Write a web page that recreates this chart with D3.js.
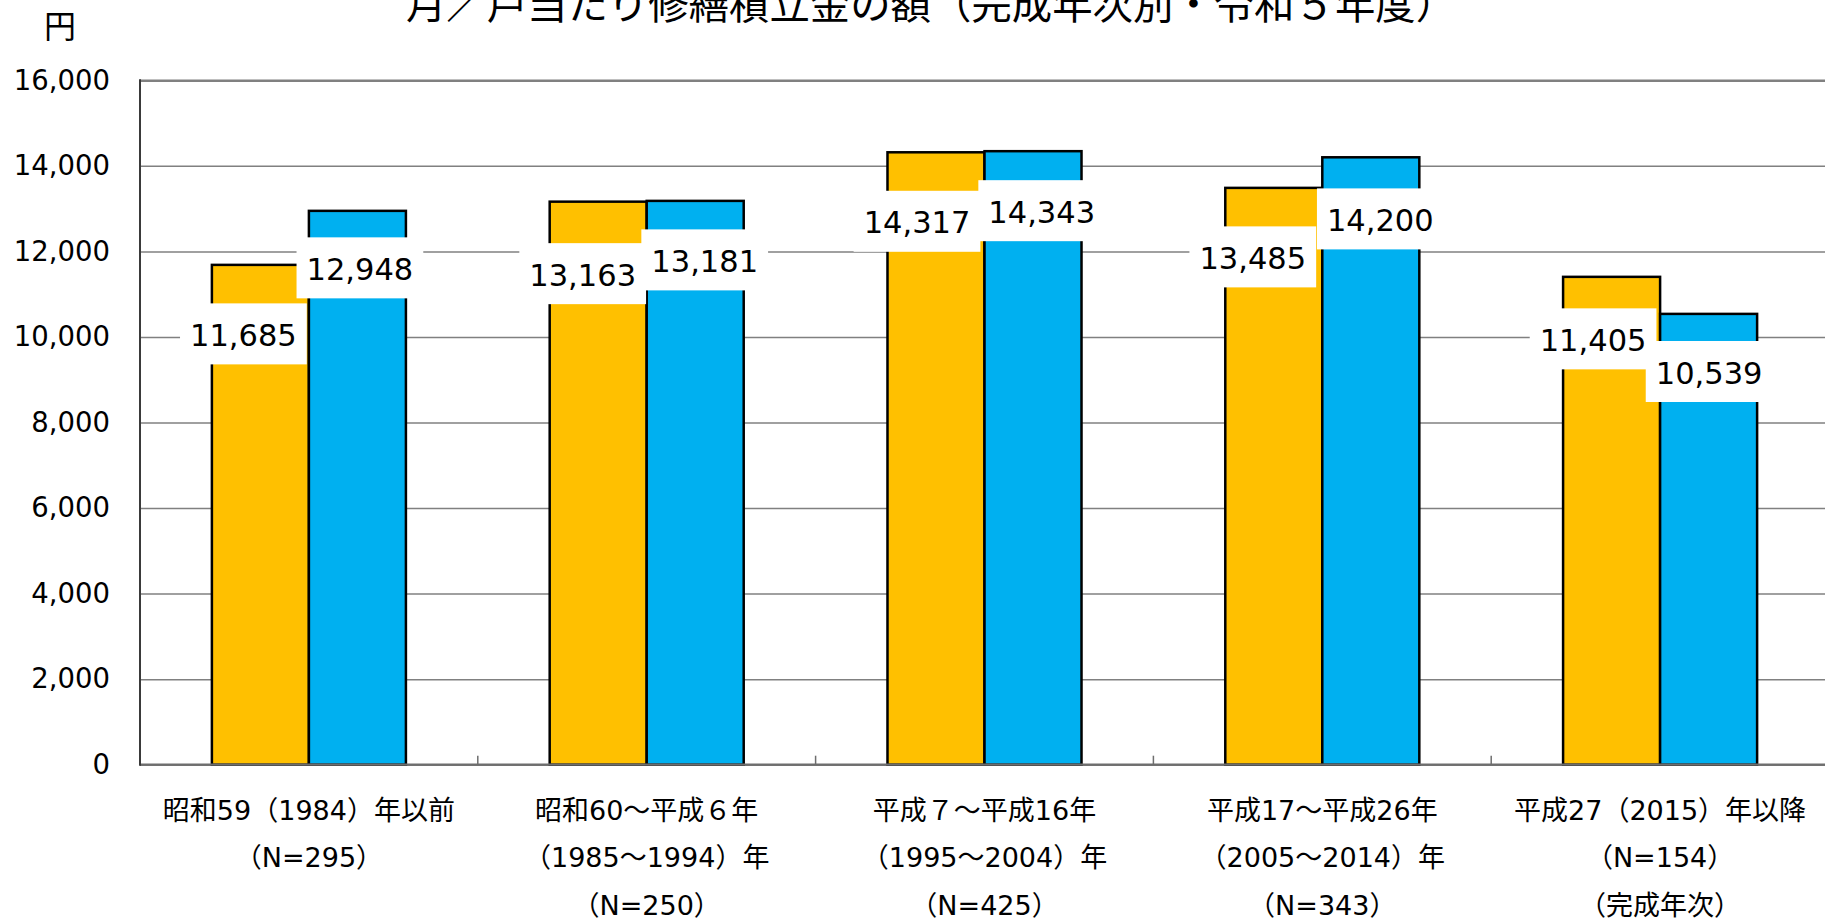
<!DOCTYPE html>
<html>
<head>
<meta charset="utf-8">
<script src="https://cdn.jsdelivr.net/npm/d3@7"></script>
<style>
  html, body { margin: 0; padding: 0; background: #ffffff; }
  svg { display: block; }
</style>
</head>
<body>
<svg id="chart" width="1825" height="922"></svg>
<script>
// ---- data ----
const titleText = "月／戸当たり修繕積立金の額（完成年次別・令和５年度）";
const unitText = "円";

// category labels, one entry per line
const categoryLines = [
  ["昭和59（1984）年以前", "（N=295）"],
  ["昭和60～平成６年", "（1985～1994）年", "（N=250）"],
  ["平成７～平成16年", "（1995～2004）年", "（N=425）"],
  ["平成17～平成26年", "（2005～2014）年", "（N=343）"],
  ["平成27（2015）年以降", "（N=154）", "（完成年次）"]
];

const seriesKeys = ["first", "second"];
const valuesFirst  = [11685, 13163, 14317, 13485, 11405];
const valuesSecond = [12948, 13181, 14343, 14200, 10539];

const yTicks = [0, 2000, 4000, 6000, 8000, 10000, 12000, 14000, 16000];

// ---- layout ----
const W = 1825, H = 922;
const plotLeft = 140, plotRight = 1829, plotTop = 80.3, plotBottom = 764.7;
const seriesColors = { first: "#FFC000", second: "#00B0F0" };

// hand-placed value labels: offset of label centre from bar centre / bar top
const labelNudgeFirst  = [[-17, 70], [-15.5, 73], [-19, 70], [-21, 70], [-18.5, 63]];
const labelNudgeSecond = [[2.5, 58], [9.5, 60], [8.7, 60.5], [9.5, 62.6], [0.5, 58.6]];

const svg = d3.select("#chart");

const x0 = d3.scaleBand()
  .domain(d3.range(categoryLines.length))
  .range([plotLeft, plotRight])
  .paddingInner(0).paddingOuter(0);

const x1 = d3.scaleBand()
  .domain(seriesKeys)
  .range([0, x0.bandwidth()])
  .paddingInner(0).paddingOuter(0.741);

const y = d3.scaleLinear().domain([0, 16000]).range([plotBottom, plotTop]);

// ---- gridlines + y tick labels ----
const yAxis = d3.axisLeft(y)
  .tickValues(yTicks)
  .tickSize(-(W - plotLeft))
  .tickPadding(30)
  .tickFormat(d3.format(","));

const gy = svg.append("g")
  .attr("transform", `translate(${plotLeft},0)`)
  .call(yAxis);
gy.select(".domain").remove();
gy.selectAll(".tick line")
  .attr("stroke", "#808080")
  .attr("stroke-width", d => d === 16000 ? 2.5 : 1.5);
gy.selectAll(".tick text")
  .attr("fill", "#000")
  .style("font-family", "'DejaVu Sans', Verdana, sans-serif")
  .style("font-size", "27.5px");

// ---- bars ----
const rows = categoryLines.map((_, i) => ({
  i,
  vals: [
    { key: "first", v: valuesFirst[i], nudge: labelNudgeFirst[i] },
    { key: "second", v: valuesSecond[i], nudge: labelNudgeSecond[i] }
  ]
}));

const groups = svg.append("g").selectAll("g")
  .data(rows)
  .join("g")
  .attr("transform", d => `translate(${x0(d.i)},0)`);

groups.selectAll("rect")
  .data(d => d.vals)
  .join("rect")
  .attr("x", d => x1(d.key))
  .attr("y", d => y(d.v))
  .attr("width", x1.bandwidth())
  .attr("height", d => y(0) - y(d.v))
  .attr("fill", d => seriesColors[d.key])
  .attr("stroke", "#000")
  .attr("stroke-width", 2.5);

// ---- axis lines ----
svg.append("line")
  .attr("x1", plotLeft).attr("x2", W)
  .attr("y1", y(0)).attr("y2", y(0))
  .attr("stroke", "#6e6e6e").attr("stroke-width", 2.2);

svg.append("line")
  .attr("x1", plotLeft).attr("x2", plotLeft)
  .attr("y1", y(16000) - 1).attr("y2", y(0) + 1)
  .attr("stroke", "#3a3a3a").attr("stroke-width", 2);

// category boundary ticks (pointing up into the plot)
svg.append("g").selectAll("line")
  .data(d3.range(1, categoryLines.length))
  .join("line")
  .attr("x1", d => x0(d)).attr("x2", d => x0(d))
  .attr("y1", y(0)).attr("y2", y(0) - 9)
  .attr("stroke", "#6e6e6e").attr("stroke-width", 1.5);

// ---- category labels ----
const catG = svg.append("g")
  .style("font-family", "'DejaVu Sans', 'Noto Sans CJK JP', sans-serif")
  .style("font-size", "27px")
  .attr("fill", "#000")
  .attr("text-anchor", "middle");

categoryLines.forEach((lines, i) => {
  const cx = x0(i) + x0.bandwidth() / 2;
  lines.forEach((line, k) => {
    catG.append("text")
      .attr("x", cx)
      .attr("y", 810 + k * 47.5)
      .attr("dominant-baseline", "central")
      .text(line);
  });
});

// ---- value labels (white boxes over bars) ----
const labelFont = 30.5;
const labelLayer = svg.append("g")
  .style("font-family", "'DejaVu Sans', Verdana, sans-serif")
  .style("font-size", labelFont + "px");

rows.forEach(r => {
  r.vals.forEach(d => {
    const cx = x0(r.i) + x1(d.key) + x1.bandwidth() / 2 + d.nudge[0];
    const cy = y(d.v) + d.nudge[1];
    const g = labelLayer.append("g");
    const box = g.append("rect").attr("fill", "#ffffff");
    const t = g.append("text")
      .attr("x", cx)
      .attr("y", cy + labelFont * 0.365)
      .attr("text-anchor", "middle")
      .attr("fill", "#000")
      .text(d3.format(",")(d.v));
    const tw = t.node().getComputedTextLength();
    box.attr("x", cx - tw / 2 - 10)
      .attr("y", cy - 31.5)
      .attr("width", tw + 20)
      .attr("height", 61);
  });
});

// ---- title and unit ----
svg.append("text")
  .attr("x", 931)
  .attr("y", 19)
  .attr("text-anchor", "middle")
  .style("font-family", "'Noto Sans CJK JP', sans-serif")
  .style("font-size", "40.4px")
  .attr("fill", "#000")
  .text(titleText);

svg.append("text")
  .attr("x", 60)
  .attr("y", 24)
  .attr("text-anchor", "middle")
  .attr("dominant-baseline", "central")
  .style("font-family", "'Noto Sans CJK JP', sans-serif")
  .style("font-size", "32px")
  .attr("fill", "#000")
  .text(unitText);
</script>
</body>
</html>
